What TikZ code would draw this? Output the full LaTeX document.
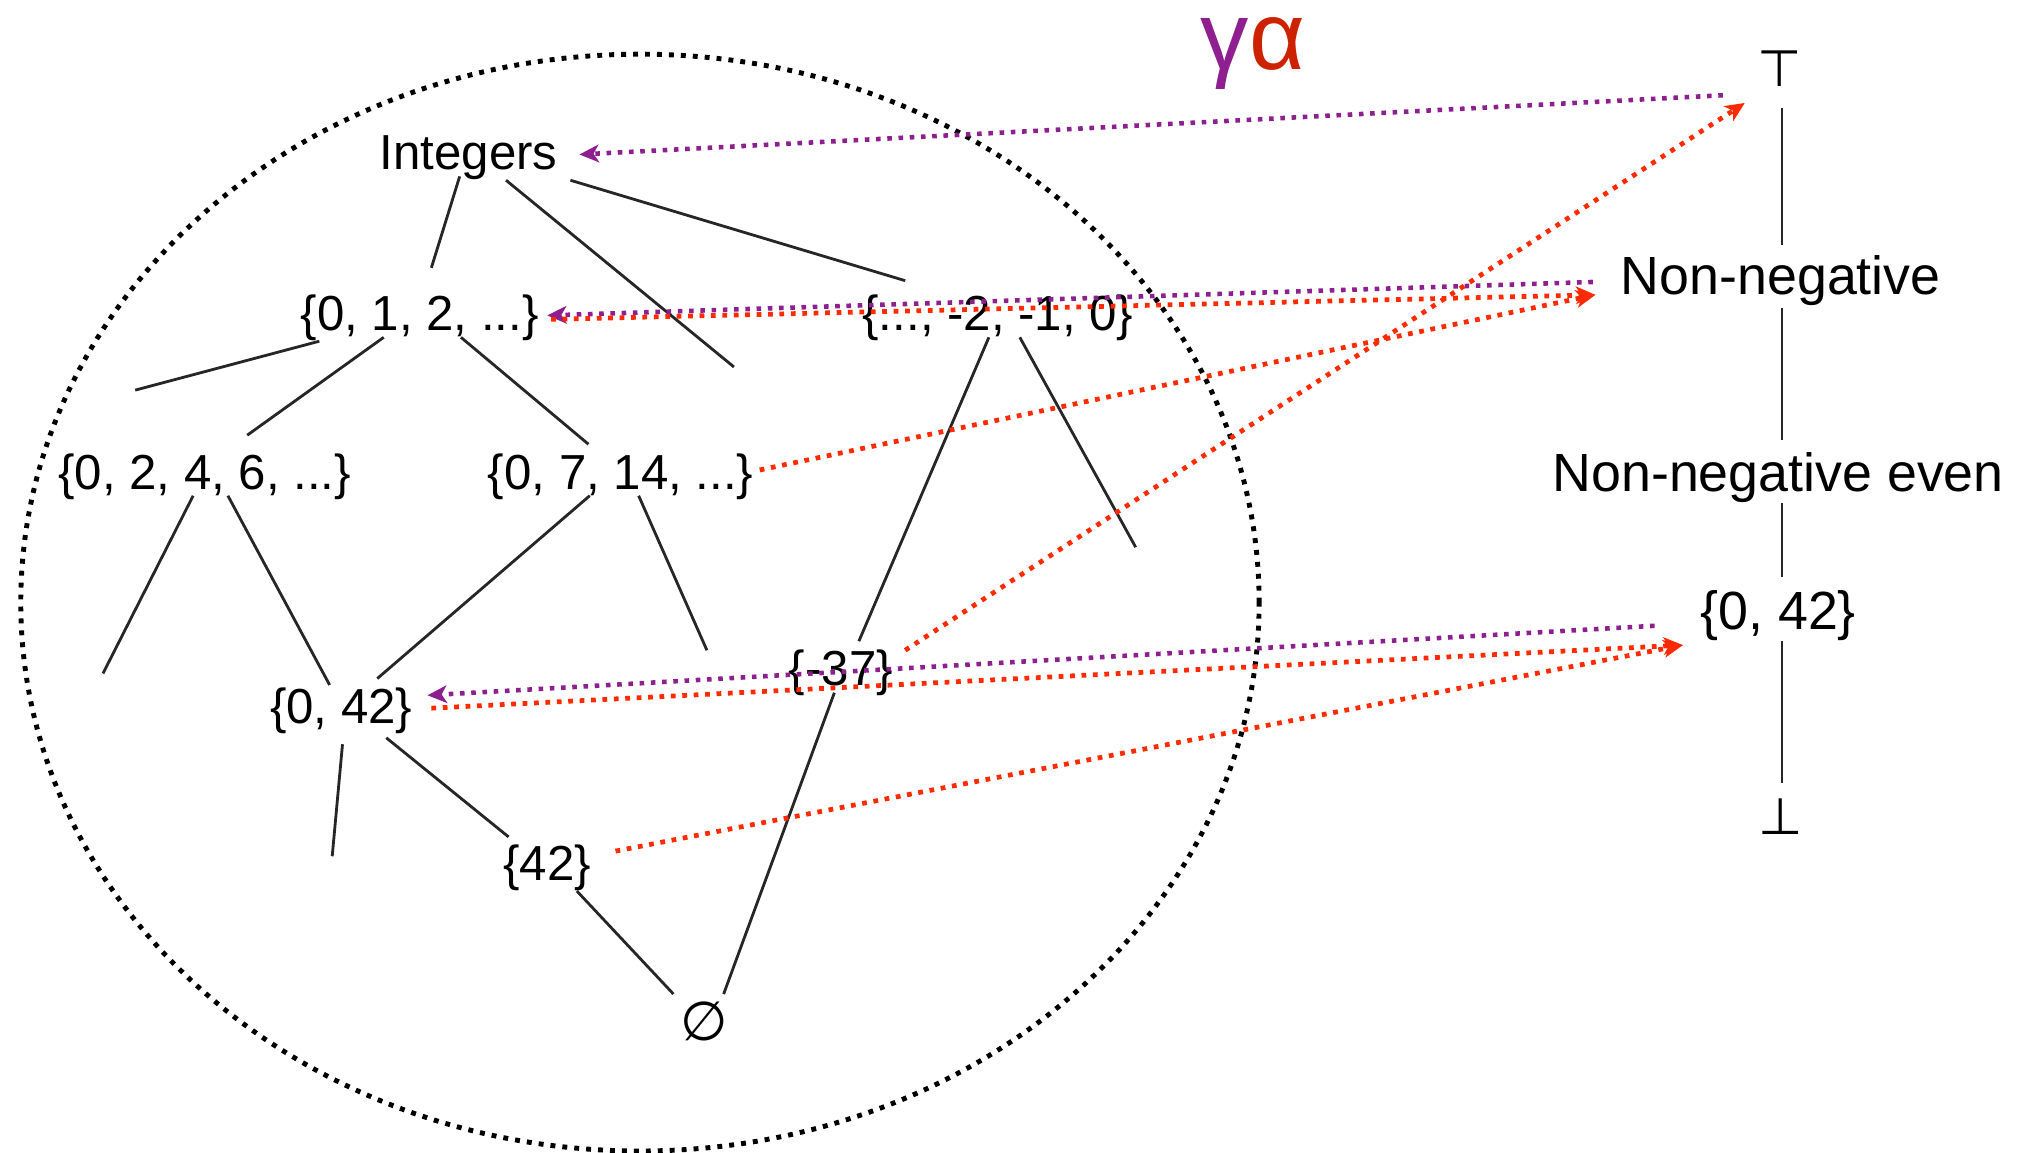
\documentclass[tikz,border=0pt]{standalone}
\usepackage{fontspec}
\setmainfont{Liberation Sans}
\newfontfamily\dejavu{DejaVu Sans}
\usetikzlibrary{arrows.meta,calc}
\definecolor{gpurple}{HTML}{8D1F8E}
\definecolor{ared}{HTML}{FF2A00}
\definecolor{alphared}{HTML}{CC2200}
\tikzset{
  lat/.style={font=\fontsize{14}{16}\selectfont, inner sep=0pt, anchor=base},
  rlab/.style={font=\fontsize{15.3}{18}\selectfont, inner sep=0pt, anchor=base},
  symb/.style={font=\dejavu\fontsize{14.5}{16}\selectfont, inner sep=0pt},
  edge/.style={draw=black!85, line width=0.8pt},
  gam/.style={draw=gpurple, line width=1.3pt, dash pattern=on 1.3pt off 1.9pt,
    -{Stealth[length=5.5pt,width=5pt,inset=1.5pt]}},
  alp/.style={draw=ared, line width=1.35pt, dash pattern=on 1.35pt off 1.9pt,
    -{Stealth[length=5.5pt,width=5pt,inset=1.5pt]}},
  outline/.style={draw=black, line width=1.4pt, dash pattern=on 1.4pt off 2pt}
}
\begin{document}
\begin{tikzpicture}[x=0.012876cm, y=-0.012876cm]
\useasboundingbox (0,0) rectangle (1568,895);
% enclosing dotted ellipse
\draw[outline] (497,468) ellipse [x radius=6.193cm, y radius=5.485cm];
% title
\node[anchor=base, inner sep=0pt, font=\fontsize{27.5}{29}\selectfont] (ga) at (973,54)
  {\textcolor{gpurple}{γ}\textcolor{alphared}{α}};
% lattice of sets
\node[lat] (int)   at (364,132) {Integers};
\node[lat] (n012)  at (326,257) {\{0, 1, 2, ...\}};
\node[lat] (nneg)  at (775,257) {\{..., -2, -1, 0\}};
\node[lat] (n0246) at (159,380) {\{0, 2, 4, 6, ...\}};
\node[lat] (n0714) at (482,380) {\{0, 7, 14, ...\}};
\node[lat] (n042)  at (265,562) {\{0, 42\}};
\node[lat] (n37)   at (653,532) {\{-37\}};
\node[lat] (n42)   at (425,684) {\{42\}};
\node[symb, font=\dejavu\fontsize{15.5}{17}\selectfont] (empty) at (547,793) {∅};
% dangling edge ends
\coordinate (d1) at (570,285);
\coordinate (d2) at (105,303);
\coordinate (d3) at (882,425);
\coordinate (d4) at (80,523);
\coordinate (d5) at (549,505);
\coordinate (d6) at (258,665);
% abstract lattice
\node[symb] (top) at (1382,53) {⊤};
\node[rlab] (rnn)  at (1383,229) {Non-negative};
\node[rlab] (rnne) at (1381,382) {Non-negative even};
\node[rlab] (r042) at (1381,489) {\{0, 42\}};
\node[symb] (bot) at (1383,634) {⊥};
% lattice edges
\draw[edge] ($(int.base)+(-7,5)$) -- ($(n012.base)+(9,-49)$);
\draw[edge] ($(int.base)+(29,8)$) -- (d1);
\draw[edge] ($(int.base)+(79,8)$) -- ($(nneg.base)+(-72,-39)$);
\draw[edge] ($(n012.base)+(-78,8)$) -- (d2);
\draw[edge] ($(n012.base)+(-28,5)$) -- ($(n0246.base)+(33,-42)$);
\draw[edge] ($(n012.base)+(32,5)$) -- ($(n0714.base)+(-25,-35)$);
\draw[edge] ($(nneg.base)+(-7,5)$) -- ($(n37.base)+(14,-34)$);
\draw[edge] ($(nneg.base)+(17,5)$) -- (d3);
\draw[edge] ($(n0246.base)+(-9,5)$) -- (d4);
\draw[edge] ($(n0246.base)+(18,5)$) -- ($(n042.base)+(-9,-30)$);
\draw[edge] ($(n0714.base)+(-24,5)$) -- ($(n042.base)+(28,-35)$);
\draw[edge] ($(n0714.base)+(14,5)$) -- (d5);
\draw[edge] ($(n042.base)+(1,16)$) -- (d6);
\draw[edge] ($(n042.base)+(35,11)$) -- ($(n42.base)+(-30,-34)$);
\draw[edge] ($(n42.base)+(23,8)$) -- ($(empty)+(-24,-21)$);
\draw[edge] ($(n37.base)+(-5,6)$) -- ($(empty)+(15,-21)$);
% abstract chain
\draw[edge] ($(top)+(2,31)$) -- ($(rnn.base)+(1,-39)$);
\draw[edge] ($(rnn.base)+(1,10)$) -- ($(rnne.base)+(3,-40)$);
\draw[edge] ($(rnne.base)+(3,9)$) -- ($(r042.base)+(3,-41)$);
\draw[edge] ($(r042.base)+(3,9)$) -- ($(bot)+(1,-26)$);
% gamma (concretization) arrows
\draw[gam] ($(top)+(-44,21)$) -- ($(int.base)+(86,-12)$);
\draw[gam] ($(rnn.base)+(-146,-10)$) -- ($(n012.base)+(99,-12)$);
\draw[gam] ($(r042.base)+(-96,-3)$) -- ($(n042.base)+(67,-22)$);
% alpha (abstraction) arrows
\draw[alp] ($(n37.base)+(50,-27)$) -- ($(top)+(-27,27)$);
\draw[alp] ($(n012.base)+(102,-9)$) -- ($(rnn.base)+(-144,0)$);
\draw[alp] ($(n0714.base)+(108,-15)$) -- ($(rnn.base)+(-144,0)$);
\draw[alp] ($(n042.base)+(70,-12)$) -- ($(r042.base)+(-74,12)$);
\draw[alp] ($(n42.base)+(53,-23)$) -- ($(r042.base)+(-74,12)$);
\end{tikzpicture}
\end{document}
